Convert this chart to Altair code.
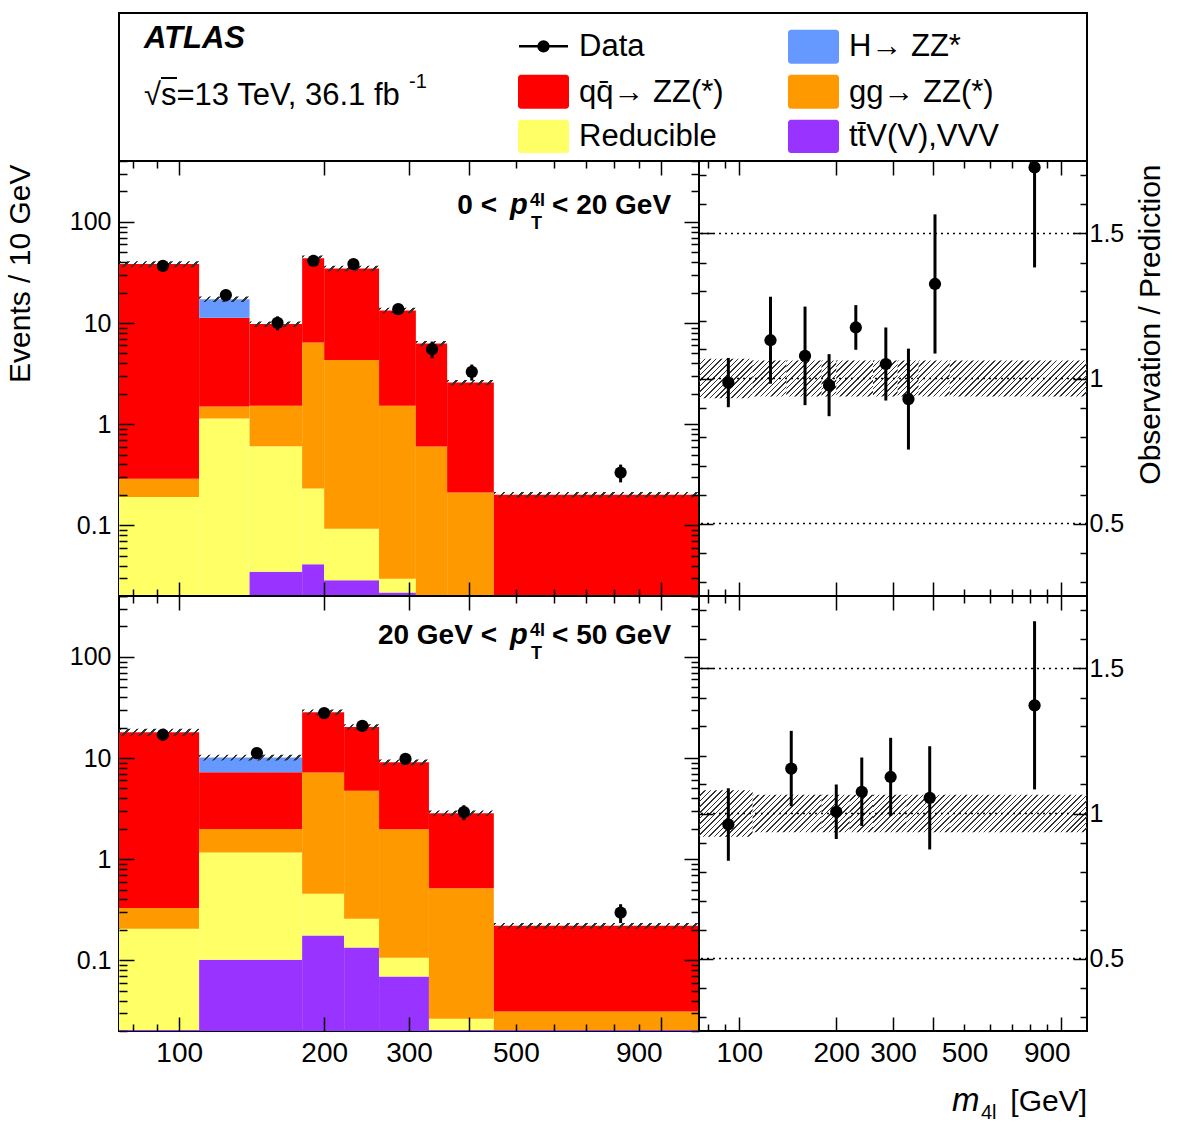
import math
import altair as alt
import pandas as pd

FONT = "Liberation Sans"

# ------------------------------------------------------------------ data ----
# m4l bin edges [GeV] of the two pT(4l) slices
EDGES_LOW = [75, 110, 140, 180, 200, 260, 310, 360, 450, 1200]   # 0 < pT < 20 GeV
EDGES_HIGH = [75, 110, 180, 220, 260, 330, 450, 1200]            # 20 < pT < 50 GeV

# predicted events / 10 GeV per process, listed from the bottom of the stack up
TTV_LOW = [0.0205, 0.0205, 0.0348, 0.0412, 0.0286, 0.0216, 0.0205, 0.0205, 0.0205]
RED_LOW = [0.17, 1.12, 0.57, 0.19, 0.064, 0.008, 0.0, 0.0, 0.0]
GGZZ_LOW = [0.098, 0.354, 0.92, 6.18, 4.21, 1.49, 0.58, 0.19, 0.0]
QQZZ_LOW = [38.0, 9.8, 8.23, 37.4, 30.3, 11.8, 5.67, 2.37, 0.18]
HZZ_LOW = [0.0, 5.9, 0.0, 0.0, 0.0, 0.0, 0.0, 0.0, 0.0]
DATA_LOW = [36.8, 18.9, 10.05, 41.2, 38.3, 13.7, 5.52, 3.29, 0.332]
RATIO_LOW = [0.986, 1.132, 1.078, 0.977, 1.176, 1.050, 0.929, 1.326, 1.728]
RATIO_ERR_LOW = [0.085, 0.15, 0.17, 0.107, 0.077, 0.126, 0.174, 0.24, 0.345]
SYST_LOW = [0.068, 0.062, 0.062, 0.062, 0.062, 0.062, 0.062, 0.062, 0.062]

TTV_HIGH = [0.0205, 0.101, 0.176, 0.134, 0.069, 0.0205, 0.0205]
RED_HIGH = [0.185, 1.06, 0.278, 0.123, 0.037, 0.006, 0.0]
GGZZ_HIGH = [0.123, 0.83, 6.74, 4.48, 1.87, 0.49, 0.0106]
QQZZ_HIGH = [17.7, 5.26, 21.2, 15.5, 7.12, 2.33, 0.188]
HZZ_HIGH = [0.0, 2.85, 0.0, 0.0, 0.0, 0.0, 0.0]
DATA_HIGH = [17.0, 11.2, 27.8, 20.8, 9.8, 2.92, 0.296]
RATIO_HIGH = [0.962, 1.155, 1.006, 1.075, 1.126, 1.054, 1.373]
RATIO_ERR_HIGH = [0.125, 0.13, 0.094, 0.118, 0.135, 0.178, 0.29]
SYST_HIGH = [0.08, 0.065, 0.065, 0.065, 0.065, 0.065, 0.065]

PROCESSES = ["t\u0074\u0304V(V),VVV", "Reducible", "gg\u2192 ZZ(*)", "qq\u0304\u2192 ZZ(*)", "H\u2192 ZZ*"]
COLORS = ["#9933FF", "#FFFF66", "#FF9900", "#FF0000", "#6699FF"]

X_LABELS = [100, 200, 300, 500, 900]
Y_LABELS = [0.1, 1, 10, 100]
R_LABELS = [0.5, 1, 1.5]

# ---------------------------------------------------------------- layout ----
X_DOMAIN = [75, 1200]
Y_DOMAIN = [0.02, 400]
R_DOMAIN = [0.25, 1.75]
W_MAIN, W_RATIO, H_PANEL = 580, 388, 435
FLOOR = 1e-3

X_MAJOR = [100, 200, 300, 400, 1000]
X_MINOR = [80, 90, 500, 600, 700, 800, 900]
Y_MAJOR = [0.1, 1, 10, 100]
Y_MINOR = [round(m * 10 ** e, 6) for e in (-2, -1, 0, 1, 2) for m in range(2, 10)
           if Y_DOMAIN[0] <= m * 10 ** e <= Y_DOMAIN[1]]
R_MAJOR = [0.5, 1.0, 1.5]
R_MINOR = [0.3, 0.4, 0.6, 0.7, 0.8, 0.9, 1.1, 1.2, 1.3, 1.4, 1.6, 1.7]

ANCHOR = pd.DataFrame({"x": [100.0], "y": [1.0]})
ONE = pd.DataFrame({"k": [0]})
CLEAR = "rgba(0,0,0,0)"


def x_scale():
    return alt.Scale(type="log", domain=X_DOMAIN, nice=False)


def y_scale():
    return alt.Scale(type="log", domain=Y_DOMAIN, nice=False)


def r_scale():
    return alt.Scale(type="linear", domain=R_DOMAIN, nice=False, zero=False)


def hatch(w, h, period, frac, color="#333333"):
    """45-degree '/' hatching as a striped linear gradient over a w x h box."""
    k = (w + h) / (w * w + h * h)
    n = max(1, round((w + h) / period))
    stops = []
    for i in range(n):
        a, b = i / n, (i + frac) / n
        stops += [alt.GradientStop(color=CLEAR, offset=a), alt.GradientStop(color=color, offset=a),
                  alt.GradientStop(color=color, offset=b), alt.GradientStop(color=CLEAR, offset=b)]
    return alt.LinearGradient(gradient="linear", stops=stops, x1=0, y1=0, x2=k * w, y2=k * h)


def tick_axis(orient, offset, values, size):
    return alt.Axis(orient=orient, offset=offset, values=values, tickSize=size, labels=False,
                    domain=False, grid=False, title=None, tickColor="black", tickWidth=1.5, zindex=2)


def label_axis(orient, values, fmt, size, pad, **extra):
    extra.setdefault("title", None)
    return alt.Axis(orient=orient, values=values, format=fmt, ticks=False, domain=False, grid=False,
                    labelFont=FONT, labelFontSize=size, labelColor="black", labelPadding=pad,
                    labelOverlap=False, labelFlush=False, zindex=2, **extra)


def axis_carriers(xs, ys, x_axes, y_axes):
    out = []
    for k in range(max(len(x_axes), len(y_axes))):
        xa = x_axes[k] if k < len(x_axes) else None
        ya = y_axes[k] if k < len(y_axes) else None
        out.append(alt.Chart(ANCHOR).mark_point(opacity=0, size=1).encode(
            x=alt.X("x:Q", scale=xs, axis=xa), y=alt.Y("y:Q", scale=ys, axis=ya)))
    return out


def text(t, x, y, size, weight="normal", style="normal", align="left"):
    return alt.Chart(ONE).mark_text(text=t, font=FONT, fontSize=size, fontWeight=weight,
                                    fontStyle=style, align=align, baseline="alphabetic",
                                    color="black").encode(x=alt.value(x), y=alt.value(y))


def pt_label(left, right, base):
    """'<left> p_T^4l <right>' in bold, anchored inside the panel's top right."""
    return [text(left, 378, base, 28, "bold", align="right"),
            text("p", 391, base, 29, "bold", "italic"),
            text("4l", 411, base - 8, 18, "bold"),
            text("T", 412, base + 15, 18, "bold"),
            text(right, 433, base, 28, "bold")]


def main_panel(edges, comps, data, ratio, rerr, syst, show_x, y_title, label_parts, label_base):
    nb = len(edges) - 1
    lo, hi = edges[:-1], edges[1:]
    rows, totals = [], []
    for i in range(nb):
        cum = 0.0
        for name, vals in zip(PROCESSES, comps):
            v = vals[i]
            if v <= 0:
                continue
            rows.append(dict(lo=lo[i], hi=hi[i], y0=cum if cum > 0 else FLOOR, y1=cum + v, proc=name))
            cum += v
        totals.append(cum)
    stack_df = pd.DataFrame(rows)
    xs, ys = x_scale(), y_scale()

    layers = [alt.Chart(stack_df).mark_rect(clip=True).encode(
        x=alt.X("lo:Q", scale=xs, axis=None), x2="hi:Q",
        y=alt.Y("y1:Q", scale=ys, axis=None), y2="y0:Q",
        color=alt.Color("proc:N", scale=alt.Scale(domain=PROCESSES, range=COLORS), legend=None))]

    # uncertainty band on top of the stack
    for i in range(nb):
        top, bot = totals[i] * (1 + syst[i]), totals[i] * (1 - syst[i])
        w = W_MAIN * math.log(hi[i] / lo[i]) / math.log(X_DOMAIN[1] / X_DOMAIN[0])
        h = H_PANEL * math.log(top / bot) / math.log(Y_DOMAIN[1] / Y_DOMAIN[0])
        band = pd.DataFrame({"lo": [lo[i]], "hi": [hi[i]], "top": [top], "bot": [bot]})
        layers.append(alt.Chart(band).mark_rect(clip=True, fill=hatch(w, h, 9, 0.3)).encode(
            x=alt.X("lo:Q", scale=xs, axis=None), x2="hi:Q",
            y=alt.Y("top:Q", scale=ys, axis=None), y2="bot:Q"))

    pts = pd.DataFrame({
        "xc": [(a + b) / 2 for a, b in zip(lo, hi)],
        "n": data,
        "n_lo": [d * (1 - e / r) for d, e, r in zip(data, rerr, ratio)],
        "n_hi": [d * (1 + e / r) for d, e, r in zip(data, rerr, ratio)],
    })
    layers.append(alt.Chart(pts).mark_rule(color="black", strokeWidth=3, clip=True).encode(
        x=alt.X("xc:Q", scale=xs, axis=None), y=alt.Y("n_lo:Q", scale=ys, axis=None), y2="n_hi:Q"))
    layers.append(alt.Chart(pts).mark_circle(color="black", opacity=1, size=150).encode(
        x=alt.X("xc:Q", scale=xs, axis=None), y=alt.Y("n:Q", scale=ys, axis=None)))

    x_axes = [tick_axis("top", -H_PANEL, X_MAJOR, 14), tick_axis("top", -H_PANEL, X_MINOR, 7),
              tick_axis("bottom", -H_PANEL, X_MAJOR, 14), tick_axis("bottom", -H_PANEL, X_MINOR, 7)]
    if show_x:
        x_axes.append(label_axis("bottom", X_LABELS, "d", 28, 8))
    ylab_extra = {}
    if y_title:
        ylab_extra = dict(title=y_title, titleX=-90, titleY=3, titleAngle=270, titleAlign="right",
                          titleBaseline="alphabetic", titleFont=FONT, titleFontSize=30,
                          titleFontWeight="normal", titleColor="black")
    y_axes = [label_axis("left", Y_LABELS, "~g", 25, 8, **ylab_extra),
              tick_axis("right", -W_MAIN, Y_MAJOR, 15), tick_axis("right", -W_MAIN, Y_MINOR, 8),
              tick_axis("left", -W_MAIN, Y_MAJOR, 15), tick_axis("left", -W_MAIN, Y_MINOR, 8)]
    layers += axis_carriers(xs, ys, x_axes, y_axes)
    layers += pt_label(label_parts[0], label_parts[1], label_base)
    return layers


def ratio_panel(edges, ratio, rerr, syst, show_x, r_title):
    nb = len(edges) - 1
    lo, hi = edges[:-1], edges[1:]
    xs, rs = x_scale(), r_scale()
    layers = []
    for i in range(nb):
        w = W_RATIO * math.log(hi[i] / lo[i]) / math.log(X_DOMAIN[1] / X_DOMAIN[0])
        h = H_PANEL * (2 * syst[i]) / (R_DOMAIN[1] - R_DOMAIN[0])
        band = pd.DataFrame({"lo": [lo[i]], "hi": [hi[i]], "top": [1 + syst[i]], "bot": [1 - syst[i]]})
        layers.append(alt.Chart(band).mark_rect(clip=True, fill=hatch(w, h, 5.5, 0.28)).encode(
            x=alt.X("lo:Q", scale=xs, axis=None), x2="hi:Q",
            y=alt.Y("top:Q", scale=rs, axis=None), y2="bot:Q"))

    refs = pd.DataFrame({"y": R_MAJOR})
    layers.append(alt.Chart(refs).mark_rule(color="black", strokeWidth=1.5, strokeDash=[2, 4]).encode(
        y=alt.Y("y:Q", scale=rs, axis=None)))

    pts = pd.DataFrame({
        "xc": [(a + b) / 2 for a, b in zip(lo, hi)],
        "r": ratio,
        "r_lo": [r - e for r, e in zip(ratio, rerr)],
        "r_hi": [r + e for r, e in zip(ratio, rerr)],
    })
    layers.append(alt.Chart(pts).mark_rule(color="black", strokeWidth=3, clip=True).encode(
        x=alt.X("xc:Q", scale=xs, axis=None), y=alt.Y("r_lo:Q", scale=rs, axis=None), y2="r_hi:Q"))
    layers.append(alt.Chart(pts).mark_circle(color="black", opacity=1, size=150, clip=True).encode(
        x=alt.X("xc:Q", scale=xs, axis=None), y=alt.Y("r:Q", scale=rs, axis=None)))

    x_axes = [tick_axis("top", -H_PANEL, X_MAJOR, 14), tick_axis("top", -H_PANEL, X_MINOR, 7),
              tick_axis("bottom", -H_PANEL, X_MAJOR, 14), tick_axis("bottom", -H_PANEL, X_MINOR, 7)]
    if show_x:
        x_axes.append(label_axis("bottom", X_LABELS, "d", 28, 8))
    rlab_extra = {}
    if r_title:
        rlab_extra = dict(title=r_title, titleX=72, titleY=3, titleAngle=270, titleAlign="right",
                          titleBaseline="alphabetic", titleFont=FONT, titleFontSize=30,
                          titleFontWeight="normal", titleColor="black")
    y_axes = [label_axis("right", R_LABELS, "~g", 25, 2, **rlab_extra),
              tick_axis("right", -W_RATIO, R_MAJOR, 14), tick_axis("right", -W_RATIO, R_MINOR, 7),
              tick_axis("left", -W_RATIO, R_MAJOR, 14), tick_axis("left", -W_RATIO, R_MINOR, 7)]
    layers += axis_carriers(xs, rs, x_axes, y_axes)
    return layers


def legend_box():
    """ATLAS label and process legend drawn in the band above the panels."""
    out = [alt.Chart(ONE).mark_rect(filled=False, stroke="black", strokeWidth=2).encode(
        x=alt.value(0), x2=alt.value(W_MAIN + W_RATIO), y=alt.value(-148), y2=alt.value(0))]
    out.append(text("ATLAS", 25, -113, 31, "bold", "italic"))
    out.append(text("\u221as=13 TeV, 36.1 fb", 25, -56, 31))
    out.append(alt.Chart(ONE).mark_rule(color="black", strokeWidth=2).encode(
        x=alt.value(42), x2=alt.value(58), y=alt.value(-83)))
    out.append(text("-1", 290, -73, 20))

    # Data entry: line with marker
    out.append(alt.Chart(ONE).mark_rule(color="black", strokeWidth=2.5).encode(
        x=alt.value(400), x2=alt.value(449), y=alt.value(-114.7)))
    out.append(alt.Chart(ONE).mark_circle(color="black", opacity=1, size=150).encode(
        x=alt.value(424.5), y=alt.value(-114.7)))
    out.append(text("Data", 460, -105, 31))

    # swatch slots: (column, row) for each process
    col_x = {0: (399, 450, 460), 1: (669, 720, 730)}
    row_y = {0: (-131.3, -97.3, -105), 1: (-86.3, -52.3, -59.5), 2: (-41.3, -8, -14.7)}
    slots = {"qq\u0304\u2192 ZZ(*)": (0, 1), "Reducible": (0, 2),
             "H\u2192 ZZ*": (1, 0), "gg\u2192 ZZ(*)": (1, 1), "t\u0074\u0304V(V),VVV": (1, 2)}
    for name, color in zip(PROCESSES, COLORS):
        c, r = slots[name]
        x0, x1, xt = col_x[c]
        y0, y1, yt = row_y[r]
        out.append(alt.Chart(ONE).mark_rect(color=color, cornerRadius=3).encode(
            x=alt.value(x0), x2=alt.value(x1), y=alt.value(y0), y2=alt.value(y1)))
        out.append(text(name, xt, yt, 31))
    return out


comps_low = [TTV_LOW, RED_LOW, GGZZ_LOW, QQZZ_LOW, HZZ_LOW]
comps_high = [TTV_HIGH, RED_HIGH, GGZZ_HIGH, QQZZ_HIGH, HZZ_HIGH]

top_left = alt.layer(
    *main_panel(EDGES_LOW, comps_low, DATA_LOW, RATIO_LOW, RATIO_ERR_LOW, SYST_LOW,
                False, "Events / 10 GeV", ("0 <", "< 20 GeV"), 53),
    *legend_box(),
).resolve_axis(x="independent", y="independent").properties(width=W_MAIN, height=H_PANEL)

top_right = alt.layer(
    *ratio_panel(EDGES_LOW, RATIO_LOW, RATIO_ERR_LOW, SYST_LOW, False, "Observation / Prediction"),
).resolve_axis(x="independent", y="independent").properties(width=W_RATIO, height=H_PANEL)

bottom_left = alt.layer(
    *main_panel(EDGES_HIGH, comps_high, DATA_HIGH, RATIO_HIGH, RATIO_ERR_HIGH, SYST_HIGH,
                True, None, ("20 GeV <", "< 50 GeV"), 48),
).resolve_axis(x="independent", y="independent").properties(width=W_MAIN, height=H_PANEL)

bottom_right = alt.layer(
    *ratio_panel(EDGES_HIGH, RATIO_HIGH, RATIO_ERR_HIGH, SYST_HIGH, True, None),
    text("m", 253, 515, 33, style="italic"),
    text("4l", 282, 523, 20),
    text("[GeV]", W_RATIO, 515, 30, align="right"),
).resolve_axis(x="independent", y="independent").properties(width=W_RATIO, height=H_PANEL)

chart = alt.concat(
    top_left, top_right, bottom_left, bottom_right, columns=2, spacing=0, bounds="flush"
).properties(
    padding={"left": 4, "top": 11, "right": 10, "bottom": 10},
    background="white",
).configure_view(stroke="black", strokeWidth=2)

chart.save("out.html", embed_options={"renderer": "svg", "actions": False})
